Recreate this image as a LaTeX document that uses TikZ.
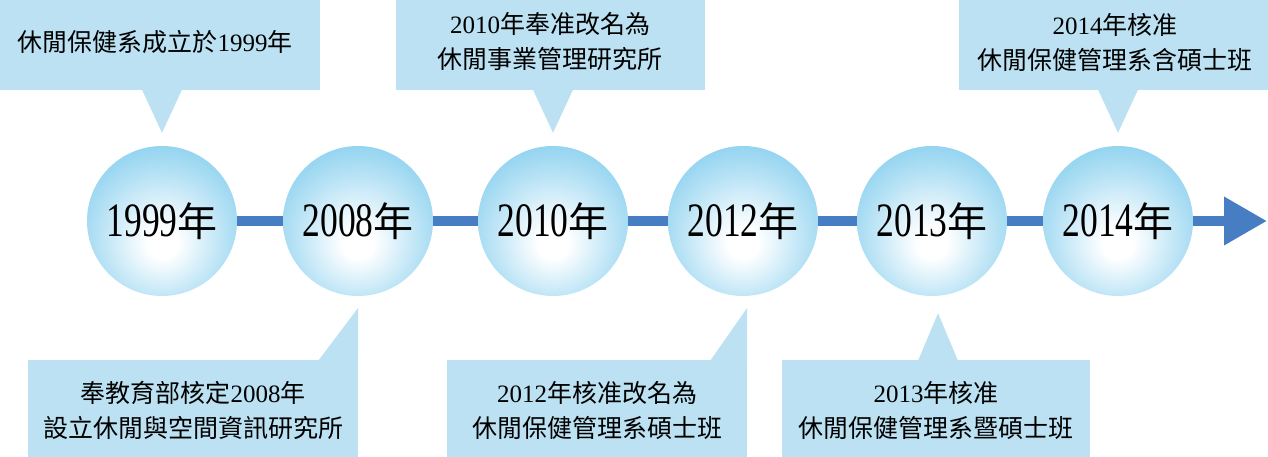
\documentclass[tikz,border=0pt]{standalone}
\usepackage{fontspec}
\setmainfont{Liberation Serif}
\newfontfamily\zhfont{Noto Sans CJK TC}
\newfontfamily\yearfont[FakeStretch=0.74]{Liberation Serif}
\newcommand\zh[1]{{\zhfont #1}}
\newcommand\nian{{\zhfont\fontsize{40}{40}\selectfont 年}}
\usetikzlibrary{arrows.meta,calc}
\definecolor{notefill}{RGB}{187,225,242}
\definecolor{ballblue}{RGB}{88,188,232}
\definecolor{lineblue}{RGB}{70,125,195}
\pgfdeclareradialshading{ballshade}{\pgfpoint{0bp}{-8bp}}{color(0bp)=(white); color(5bp)=(white); color(22bp)=(ballblue!45!white); color(38bp)=(ballblue!85!white); color(52bp)=(ballblue); color(70bp)=(ballblue)}

\begin{document}
\begin{tikzpicture}[x=1pt,y=-1pt,
    year/.style={circle,minimum size=150pt,inner sep=0pt,shade,shading=ballshade,
      font=\yearfont\fontsize{48}{48}\selectfont},
    note/.style={fill=notefill,align=center,inner sep=0pt,font=\fontsize{25}{35}\selectfont},
    timeline/.style={draw=lineblue,line width=10pt}]
  \useasboundingbox (0,0) rectangle (1268,457);

  \node[year] (y1999) at (162,221) {1999\nian};
  \node[year] (y2008) at (358,221) {2008\nian};
  \node[year] (y2010) at (553,221) {2010\nian};
  \node[year] (y2012) at (743,221) {2012\nian};
  \node[year] (y2013) at (932,221) {2013\nian};
  \node[year] (y2014) at (1118,221) {2014\nian};
  \coordinate (tip) at (1267,221);

  \foreach \a/\b in {y1999/y2008,y2008/y2010,y2010/y2012,y2012/y2013,y2013/y2014}
    \draw[timeline] (\a) -- (\b);
  \draw[timeline,-{Triangle[length=43pt,width=46pt]}] (y2014) -- (tip);

  % notes above
  \node[note,minimum width=330pt,minimum height=97pt] (n1999) at (155,42) {\zh{休閒保健系成立於}1999\zh{年}};
  \node[note,minimum width=309pt,minimum height=97pt] (n2010) at (550,42) {2010\zh{年奉准改名為}\\\zh{休閒事業管理研究所}};
  \node[note,minimum width=312pt,minimum height=97pt] (n2014) at (1115,42) {2014\zh{年核准}\\\zh{休閒保健管理系含碩士班}};
  \coordinate (t1999) at ($(y1999.north)+(0,-13)$);
  \coordinate (t2010) at ($(y2010.north)+(0,-13)$);
  \coordinate (t2014) at ($(y2014.north)+(0,-13)$);
  \foreach \n in {1999,2010,2014}
    \fill[notefill] ($(t\n|-n\n.south)+(-20,-1)$) -- (t\n) -- ($(t\n|-n\n.south)+(20,-1)$) -- cycle;

  % notes below
  \node[note,minimum width=330pt,minimum height=100pt] (n2008) at (193,410) {\zh{奉教育部核定}2008\zh{年}\\\zh{設立休閒與空間資訊研究所}};
  \node[note,minimum width=300pt,minimum height=100pt] (n2012) at (597,410) {2012\zh{年核准改名為}\\\zh{休閒保健管理系碩士班}};
  \node[note,minimum width=308pt,minimum height=100pt] (n2013) at (936,410) {2013\zh{年核准}\\\zh{休閒保健管理系暨碩士班}};
  \coordinate (t2008) at ($(n2008.north east)+(0,-52)$);
  \coordinate (t2012) at ($(n2012.north east)+(0,-52)$);
  \coordinate (t2013) at ($(y2013.south)+(6,17)$);
  \fill[notefill] ($(n2008.north east)+(-40,1)$) -- (t2008) -- ($(n2008.north east)+(0,1)$) -- cycle;
  \fill[notefill] ($(n2012.north east)+(-37,1)$) -- (t2012) -- ($(n2012.north east)+(0,1)$) -- cycle;
  \fill[notefill] ($(t2013|-n2013.north)+(-20,1)$) -- (t2013) -- ($(t2013|-n2013.north)+(20,1)$) -- cycle;
\end{tikzpicture}
\end{document}
